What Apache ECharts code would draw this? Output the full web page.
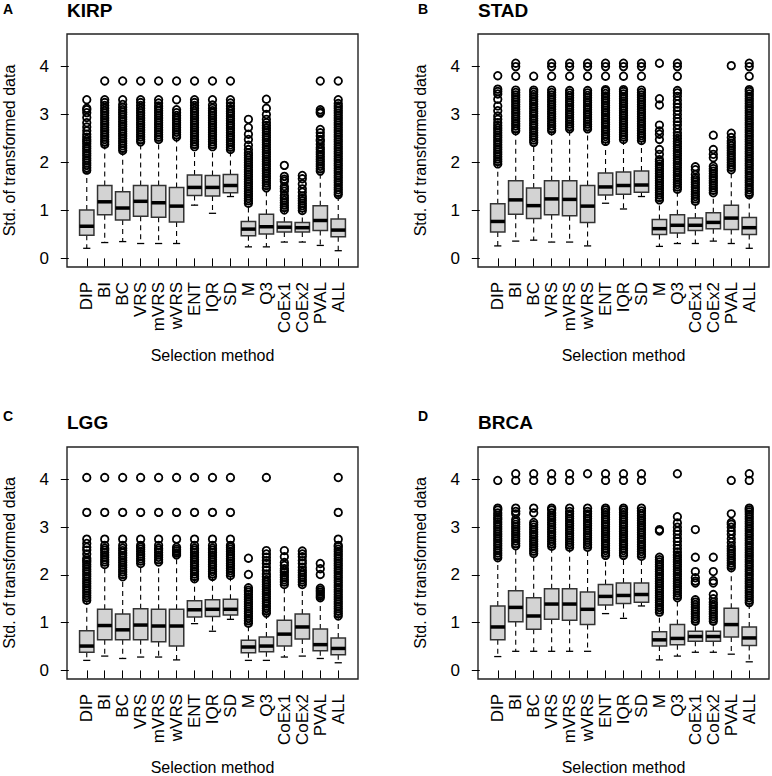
<!DOCTYPE html>
<html>
<head>
<meta charset="utf-8">
<script src="https://cdn.jsdelivr.net/npm/echarts/dist/echarts.min.js"></script>
<style>
html,body{margin:0;padding:0;background:#fff;}
#chart{width:772px;height:776px;}
</style>
</head>
<body>
<div id="chart"></div>
<script>
// ---------------- DATA ----------------
const categories = ['DIP','BI','BC','VRS','mVRS','wVRS','ENT','IQR','SD','M','Q3','CoEx1','CoEx2','PVAL','ALL'];
const yTicks = [0, 1, 2, 3, 4];
const panelTitles = ['KIRP', 'STAD', 'LGG', 'BRCA'];
const panelLetters = ['A', 'B', 'C', 'D'];
const xAxisTitle = 'Selection method';
const yAxisTitle = 'Std. of transformed data';

// box stats: [lower whisker, Q1, median, Q3, upper whisker]
const kirpBoxes = [
  [0.21,0.48,0.67,1.01,1.80],[0.33,0.91,1.18,1.52,2.35],[0.35,0.80,1.05,1.39,2.22],
  [0.31,0.88,1.19,1.52,2.40],[0.31,0.86,1.16,1.52,2.45],[0.31,0.76,1.09,1.48,2.50],
  [1.11,1.31,1.48,1.74,2.30],[0.94,1.30,1.48,1.73,2.30],[1.29,1.37,1.52,1.75,2.25],
  [0.24,0.47,0.61,0.77,1.13],[0.24,0.51,0.66,0.92,1.45],[0.34,0.55,0.65,0.76,0.99],
  [0.34,0.55,0.64,0.75,0.98],[0.27,0.58,0.79,1.10,1.80],[0.16,0.45,0.59,0.82,1.30]
];
const kirpOutliers = [
  [1.84,1.89,1.94,1.99,2.04,2.09,2.14,2.19,2.24,2.29,2.34,2.39,2.44,2.48,2.53,2.59,2.66,2.74,2.83,2.94,3.04,3.10,3.13,3.31],
  [2.38,2.43,2.48,2.53,2.58,2.63,2.68,2.73,2.78,2.83,2.88,2.93,2.98,3.03,3.08,3.13,3.19,3.25,3.31,3.70],
  [2.25,2.30,2.35,2.40,2.45,2.50,2.55,2.60,2.65,2.70,2.75,2.80,2.85,2.90,2.95,3.00,3.05,3.10,3.15,3.21,3.31,3.70],
  [2.43,2.48,2.53,2.58,2.63,2.68,2.73,2.78,2.83,2.88,2.93,2.98,3.03,3.08,3.13,3.19,3.25,3.31,3.70],
  [2.48,2.53,2.58,2.63,2.68,2.73,2.78,2.83,2.88,2.93,2.98,3.03,3.08,3.13,3.18,3.24,3.31,3.70],
  [2.53,2.58,2.63,2.68,2.73,2.78,2.83,2.88,2.93,2.98,3.04,3.10,3.31,3.70],
  [2.33,2.38,2.43,2.48,2.53,2.58,2.63,2.68,2.73,2.78,2.83,2.88,2.93,2.98,3.03,3.08,3.13,3.19,3.25,3.31,3.70],
  [2.33,2.38,2.43,2.48,2.53,2.58,2.63,2.68,2.73,2.78,2.83,2.88,2.93,2.98,3.03,3.08,3.13,3.20,3.31,3.70],
  [2.27,2.32,2.37,2.42,2.47,2.52,2.57,2.62,2.67,2.72,2.77,2.82,2.87,2.92,2.97,3.02,3.07,3.12,3.18,3.24,3.31,3.70],
  [1.15,1.20,1.25,1.30,1.35,1.40,1.45,1.50,1.55,1.60,1.65,1.70,1.75,1.80,1.85,1.90,1.95,2.00,2.05,2.10,2.15,2.20,2.27,2.36,2.48,2.59,2.73,2.90],
  [1.47,1.52,1.57,1.62,1.67,1.72,1.77,1.82,1.87,1.92,1.97,2.02,2.07,2.12,2.17,2.22,2.27,2.32,2.37,2.42,2.47,2.52,2.57,2.62,2.67,2.72,2.77,2.83,2.90,3.00,3.13,3.32],
  [1.01,1.06,1.11,1.16,1.21,1.26,1.31,1.40,1.45,1.50,1.61,1.65,1.71,1.94],
  [1.00,1.05,1.10,1.15,1.20,1.25,1.30,1.38,1.45,1.55,1.66,1.73],
  [1.82,1.87,1.92,1.97,2.02,2.07,2.12,2.17,2.22,2.27,2.31,2.38,2.45,2.48,2.55,2.62,2.69,3.03,3.06,3.10,3.70],
  [1.33,1.38,1.43,1.48,1.53,1.58,1.63,1.68,1.73,1.78,1.83,1.88,1.93,1.98,2.03,2.08,2.13,2.18,2.23,2.28,2.33,2.38,2.43,2.48,2.53,2.58,2.63,2.68,2.73,2.78,2.83,2.88,2.93,2.98,3.03,3.08,3.13,3.18,3.23,3.31,3.70]
];

const stadBoxes = [
  [0.26,0.55,0.77,1.14,1.95],[0.36,0.92,1.22,1.62,2.63],[0.38,0.83,1.10,1.47,2.40],
  [0.34,0.91,1.24,1.62,2.63],[0.34,0.89,1.23,1.62,2.66],[0.26,0.75,1.09,1.52,2.66],
  [1.15,1.32,1.49,1.78,2.42],[1.03,1.34,1.52,1.80,2.46],[1.29,1.38,1.53,1.82,2.44],
  [0.25,0.50,0.62,0.81,1.20],[0.31,0.53,0.69,0.91,1.42],[0.31,0.58,0.69,0.84,1.17],
  [0.36,0.62,0.75,0.95,1.35],[0.31,0.60,0.84,1.11,1.83],[0.21,0.50,0.64,0.85,1.30]
];
const stadOutliers = [
  [1.97,2.02,2.07,2.12,2.17,2.22,2.27,2.32,2.37,2.42,2.47,2.52,2.57,2.62,2.67,2.72,2.77,2.83,2.90,2.97,3.08,3.18,3.32,3.43,3.48,3.53,3.81],
  [2.66,2.71,2.76,2.81,2.86,2.91,2.96,3.01,3.06,3.11,3.16,3.21,3.26,3.31,3.36,3.41,3.46,3.51,3.80,4.00,4.07],
  [2.42,2.47,2.52,2.57,2.62,2.67,2.72,2.77,2.82,2.87,2.92,2.97,3.02,3.07,3.12,3.17,3.22,3.27,3.32,3.37,3.42,3.47,3.51,3.80],
  [2.66,2.71,2.76,2.81,2.86,2.91,2.96,3.01,3.06,3.11,3.16,3.21,3.26,3.31,3.36,3.41,3.46,3.51,3.80,4.00,4.07],
  [2.70,2.75,2.80,2.85,2.90,2.95,3.00,3.05,3.10,3.15,3.20,3.25,3.30,3.35,3.40,3.45,3.50,3.80,4.00,4.07],
  [2.70,2.75,2.80,2.85,2.90,2.95,3.00,3.05,3.10,3.15,3.20,3.25,3.30,3.35,3.40,3.45,3.50,3.80,4.00,4.07],
  [2.44,2.49,2.54,2.59,2.64,2.69,2.74,2.79,2.84,2.89,2.94,2.99,3.04,3.09,3.14,3.19,3.24,3.29,3.34,3.39,3.44,3.49,3.52,3.80,4.00,4.07],
  [2.48,2.53,2.58,2.63,2.68,2.73,2.78,2.83,2.88,2.93,2.98,3.03,3.08,3.13,3.18,3.23,3.28,3.33,3.38,3.43,3.48,3.52,3.80,4.00,4.07],
  [2.46,2.51,2.56,2.61,2.66,2.71,2.76,2.81,2.86,2.91,2.96,3.01,3.06,3.11,3.16,3.21,3.26,3.31,3.36,3.41,3.46,3.51,3.80,4.00,4.07],
  [1.22,1.27,1.32,1.37,1.42,1.47,1.52,1.57,1.62,1.67,1.72,1.77,1.82,1.87,1.92,1.97,2.02,2.06,2.17,2.27,2.48,2.59,2.66,2.78,3.20,3.33,4.07],
  [1.44,1.49,1.54,1.59,1.64,1.69,1.74,1.79,1.84,1.89,1.94,1.99,2.04,2.09,2.14,2.19,2.24,2.29,2.34,2.39,2.44,2.50,2.56,2.62,2.70,2.78,2.85,2.92,3.00,3.08,3.15,3.22,3.30,3.38,3.45,3.50,3.80,4.00,4.07],
  [1.19,1.24,1.29,1.34,1.39,1.44,1.49,1.54,1.59,1.64,1.68,1.75,1.85,1.91],
  [1.37,1.42,1.47,1.52,1.57,1.62,1.67,1.72,1.77,1.82,1.87,1.92,2.10,2.17,2.27,2.57],
  [1.85,1.90,1.95,2.00,2.05,2.10,2.15,2.20,2.25,2.30,2.35,2.40,2.45,2.52,2.61,4.02],
  [1.33,1.38,1.43,1.48,1.53,1.58,1.63,1.68,1.73,1.78,1.83,1.88,1.93,1.98,2.03,2.08,2.13,2.18,2.23,2.28,2.33,2.38,2.43,2.48,2.53,2.58,2.63,2.68,2.73,2.78,2.83,2.88,2.93,2.98,3.03,3.08,3.13,3.18,3.23,3.28,3.33,3.38,3.43,3.48,3.52,3.80,4.00,4.07]
];

const lggBoxes = [
  [0.21,0.38,0.51,0.83,1.45],[0.30,0.64,0.94,1.28,2.20],[0.25,0.64,0.85,1.18,1.94],
  [0.28,0.64,0.95,1.29,2.22],[0.28,0.60,0.93,1.28,2.25],[0.22,0.51,0.93,1.28,2.40],
  [0.98,1.12,1.27,1.46,1.90],[0.82,1.13,1.28,1.48,1.95],[1.07,1.16,1.28,1.49,1.97],
  [0.21,0.37,0.49,0.63,0.97],[0.21,0.39,0.51,0.70,1.18],[0.28,0.51,0.76,1.05,1.78],
  [0.30,0.66,0.91,1.18,1.78],[0.25,0.41,0.54,0.87,1.50],[0.16,0.33,0.46,0.68,1.12]
];
const lggOutliers = [
  [1.47,1.52,1.57,1.62,1.67,1.72,1.77,1.82,1.87,1.92,1.97,2.02,2.07,2.12,2.17,2.22,2.27,2.31,2.35,2.44,2.52,2.58,2.66,2.75,3.31,4.04],
  [2.22,2.27,2.32,2.37,2.42,2.47,2.52,2.56,2.62,2.75,3.31,4.04],
  [1.96,2.01,2.06,2.11,2.16,2.21,2.26,2.31,2.36,2.41,2.46,2.51,2.56,2.62,2.75,3.31,4.04],
  [2.24,2.29,2.34,2.39,2.44,2.49,2.54,2.58,2.62,2.75,3.31,4.04],
  [2.27,2.32,2.37,2.42,2.47,2.52,2.56,2.62,2.75,3.31,4.04],
  [2.42,2.46,2.50,2.54,2.58,2.75,3.31,4.04],
  [1.92,1.97,2.02,2.07,2.12,2.17,2.22,2.27,2.32,2.37,2.42,2.47,2.52,2.56,2.62,2.75,3.31,4.04],
  [1.97,2.02,2.07,2.12,2.17,2.22,2.27,2.32,2.37,2.42,2.47,2.52,2.56,2.62,2.75,3.31,4.04],
  [1.99,2.04,2.09,2.14,2.19,2.24,2.29,2.34,2.39,2.44,2.49,2.54,2.58,2.62,2.75,3.31,4.04],
  [0.99,1.04,1.09,1.14,1.19,1.24,1.29,1.34,1.39,1.44,1.49,1.54,1.59,1.64,1.68,1.73,2.01,2.35],
  [1.20,1.25,1.30,1.35,1.40,1.45,1.50,1.55,1.60,1.65,1.70,1.75,1.80,1.85,1.90,1.96,2.02,2.10,2.16,2.24,2.30,2.37,2.44,2.51,4.04],
  [1.80,1.85,1.90,1.95,2.00,2.05,2.09,2.13,2.20,2.26,2.38,2.51],
  [1.80,1.85,1.90,1.95,2.00,2.05,2.10,2.16,2.24,2.30,2.38,2.44,2.50],
  [1.52,1.56,1.60,1.64,1.68,1.72,2.01,2.13,2.24],
  [1.14,1.19,1.24,1.29,1.34,1.39,1.44,1.49,1.54,1.59,1.64,1.69,1.74,1.79,1.84,1.89,1.94,1.99,2.04,2.09,2.14,2.19,2.24,2.29,2.34,2.39,2.44,2.49,2.54,2.59,2.62,2.75,3.31,4.04]
];

const brcaBoxes = [
  [0.29,0.64,0.91,1.35,2.33],[0.40,1.02,1.32,1.67,2.58],[0.40,0.86,1.14,1.52,2.42],
  [0.40,1.07,1.39,1.71,2.58],[0.40,1.05,1.39,1.71,2.56],[0.40,0.96,1.28,1.64,2.56],
  [1.19,1.37,1.55,1.80,2.39],[1.09,1.40,1.57,1.83,2.39],[1.35,1.43,1.59,1.83,2.37],
  [0.22,0.51,0.64,0.81,1.19],[0.30,0.54,0.67,0.96,1.50],[0.38,0.61,0.71,0.82,1.00],
  [0.38,0.61,0.71,0.82,1.00],[0.34,0.70,0.96,1.30,2.13],[0.18,0.52,0.68,0.91,1.40]
];
const brcaOutliers = [
  [2.36,2.41,2.46,2.51,2.56,2.61,2.66,2.71,2.76,2.81,2.86,2.91,2.96,3.01,3.06,3.11,3.16,3.20,3.25,3.30,3.36,3.40,3.98],
  [2.61,2.66,2.71,2.76,2.81,2.86,2.91,2.96,3.01,3.06,3.11,3.16,3.28,3.33,3.40,3.98,4.12],
  [2.45,2.50,2.55,2.60,2.65,2.70,2.75,2.80,2.85,2.90,2.95,3.00,3.05,3.10,3.30,3.40,3.98,4.12],
  [2.60,2.65,2.70,2.75,2.80,2.85,2.90,2.95,3.00,3.05,3.10,3.15,3.20,3.25,3.30,3.36,3.40,3.98,4.12],
  [2.58,2.63,2.68,2.73,2.78,2.83,2.88,2.93,2.98,3.03,3.08,3.13,3.18,3.23,3.28,3.33,3.40,3.98,4.12],
  [2.58,2.63,2.68,2.73,2.78,2.83,2.88,2.93,2.98,3.03,3.08,3.13,3.18,3.23,3.28,3.33,3.40,4.12],
  [2.41,2.46,2.51,2.56,2.61,2.66,2.71,2.76,2.81,2.86,2.91,2.96,3.01,3.06,3.11,3.16,3.21,3.26,3.31,3.36,3.40,3.98,4.12],
  [2.41,2.46,2.51,2.56,2.61,2.66,2.71,2.76,2.81,2.86,2.91,2.96,3.01,3.06,3.11,3.16,3.21,3.26,3.31,3.36,3.40,3.98,4.12],
  [2.39,2.44,2.49,2.54,2.59,2.64,2.69,2.74,2.79,2.84,2.89,2.94,2.99,3.04,3.09,3.14,3.19,3.24,3.29,3.34,3.40,3.98,4.12],
  [1.22,1.27,1.32,1.37,1.42,1.47,1.52,1.57,1.62,1.67,1.72,1.77,1.82,1.87,1.92,1.97,2.02,2.07,2.12,2.17,2.22,2.27,2.32,2.37,2.92,2.95],
  [1.52,1.57,1.62,1.67,1.72,1.77,1.82,1.87,1.92,1.97,2.02,2.07,2.12,2.17,2.22,2.27,2.32,2.37,2.42,2.48,2.55,2.62,2.70,2.77,2.85,2.92,3.00,3.09,3.22,4.12],
  [1.03,1.08,1.13,1.18,1.23,1.28,1.33,1.38,1.43,1.48,1.83,1.87,1.94,2.07,2.37,2.95],
  [1.03,1.08,1.13,1.18,1.23,1.28,1.33,1.38,1.43,1.50,1.59,1.83,1.88,2.07,2.37],
  [2.15,2.20,2.25,2.30,2.35,2.40,2.45,2.50,2.55,2.60,2.68,2.76,2.85,2.92,3.00,3.06,3.10,3.28,3.98],
  [1.42,1.47,1.52,1.57,1.62,1.67,1.72,1.77,1.82,1.87,1.92,1.97,2.02,2.07,2.12,2.17,2.22,2.27,2.32,2.37,2.42,2.47,2.52,2.57,2.62,2.67,2.72,2.77,2.82,2.87,2.92,2.97,3.02,3.07,3.12,3.17,3.22,3.27,3.32,3.36,3.40,3.98,4.12]
];

// ---------------- LAYOUT / STYLE ----------------
const panelBoxes = [kirpBoxes, stadBoxes, lggBoxes, brcaBoxes];
const panelOutliers = [kirpOutliers, stadOutliers, lggOutliers, brcaOutliers];
const gridPos = [
  {left: 67, top: 34, width: 291, height: 233},
  {left: 478, top: 34, width: 291, height: 233},
  {left: 67, top: 447, width: 291, height: 232},
  {left: 478, top: 447, width: 291, height: 232}
];
const FONT = '"Liberation Sans", Arial, Helvetica, sans-serif';
const catPositions = categories.map((c, i) => i + 1);

function renderBox(params, api) {
  const x = api.value(0);
  const lo = api.coord([x, api.value(1)]);
  const q1 = api.coord([x, api.value(2)]);
  const md = api.coord([x, api.value(3)]);
  const q3 = api.coord([x, api.value(4)]);
  const hi = api.coord([x, api.value(5)]);
  const bw = api.size([0.8, 0])[0];
  const cx = lo[0];
  const hw = bw / 2, sw = bw / 4;
  const dash = {stroke: '#000', lineWidth: 1.1, lineDash: [5, 4]};
  const solid = {stroke: '#000', lineWidth: 1.3};
  return {
    type: 'group',
    children: [
      {type: 'line', shape: {x1: cx, y1: q3[1], x2: cx, y2: hi[1]}, style: dash},
      {type: 'line', shape: {x1: cx, y1: q1[1], x2: cx, y2: lo[1]}, style: dash},
      {type: 'line', shape: {x1: cx - sw, y1: hi[1], x2: cx + sw, y2: hi[1]}, style: solid},
      {type: 'line', shape: {x1: cx - sw, y1: lo[1], x2: cx + sw, y2: lo[1]}, style: solid},
      {type: 'rect', shape: {x: cx - hw, y: q3[1], width: bw, height: q1[1] - q3[1]},
        style: {fill: '#d3d3d3', stroke: '#333', lineWidth: 1.5}},
      {type: 'line', shape: {x1: cx - hw, y1: md[1], x2: cx + hw, y2: md[1]},
        style: {stroke: '#000', lineWidth: 3.5}}
    ]
  };
}

const grids = [], xAxes = [], yAxes = [], series = [], graphics = [];
for (let p = 0; p < 4; p++) {
  const g = gridPos[p];
  grids.push(Object.assign({show: true, borderColor: '#222', borderWidth: 1.4, backgroundColor: 'transparent', containLabel: false}, g));
  xAxes.push({
    gridIndex: p, type: 'value', min: -0.1, max: 16.1, offset: 2,
    axisLine: {show: false}, splitLine: {show: false},
    axisTick: {show: true, length: 8, customValues: catPositions, lineStyle: {color: '#000', width: 1}},
    axisLabel: {show: true, customValues: catPositions, rotate: 90, margin: 13,
      formatter: v => categories[Math.round(v) - 1] || '',
      fontSize: 17, color: '#000', fontFamily: FONT}
  });
  yAxes.push({
    gridIndex: p, type: 'value', min: -0.18, max: 4.68, offset: 2,
    axisLine: {show: false}, splitLine: {show: false},
    axisTick: {show: true, length: 8, customValues: yTicks, lineStyle: {color: '#000', width: 1}},
    axisLabel: {show: true, customValues: yTicks, margin: 16, fontSize: 17, color: '#000', fontFamily: FONT}
  });
  series.push({
    type: 'custom', xAxisIndex: p, yAxisIndex: p, renderItem: renderBox,
    data: panelBoxes[p].map((b, i) => [i + 1].concat(b)),
    encode: {x: 0, y: [1, 2, 3, 4, 5]}, silent: true, z: 2
  });
  const pts = [];
  panelOutliers[p].forEach((arr, i) => arr.forEach(v => pts.push([i + 1, v])));
  series.push({
    type: 'scatter', xAxisIndex: p, yAxisIndex: p, data: pts,
    symbol: 'circle', symbolSize: 7.5, silent: true, z: 3,
    itemStyle: {color: 'rgba(0,0,0,0)', borderColor: '#000', borderWidth: 1.8, opacity: 1}
  });

  const cxp = g.left + g.width / 2;
  const cyp = g.top + g.height / 2;
  const letterX = p % 2 === 0 ? 3 : 418;
  const rowTop = p < 2 ? 0 : 412;
  graphics.push({type: 'text', x: letterX, y: rowTop + (p < 2 ? 8.5 : 3.5),
    style: {text: panelLetters[p], font: 'bold 14px ' + FONT, fill: '#000', textAlign: 'left', textVerticalAlign: 'middle'}});
  graphics.push({type: 'text', x: g.left, y: rowTop + 10,
    style: {text: panelTitles[p], font: 'bold 19px ' + FONT, fill: '#000', textAlign: 'left', textVerticalAlign: 'middle'}});
  graphics.push({type: 'text', x: cxp, y: g.top + g.height + 88,
    style: {text: xAxisTitle, font: '16px ' + FONT, fill: '#000', textAlign: 'center', textVerticalAlign: 'middle'}});
  graphics.push({type: 'text', x: g.left - 58, y: cyp, rotation: Math.PI / 2,
    style: {text: yAxisTitle, font: '16px ' + FONT, fill: '#000', textAlign: 'center', textVerticalAlign: 'middle'}});
}

const chart = echarts.init(document.getElementById('chart'), null, {renderer: 'svg', width: 772, height: 776});
chart.setOption({
  backgroundColor: '#fff',
  animation: false,
  grid: grids, xAxis: xAxes, yAxis: yAxes, series: series,
  graphic: graphics
});
</script>
</body>
</html>
